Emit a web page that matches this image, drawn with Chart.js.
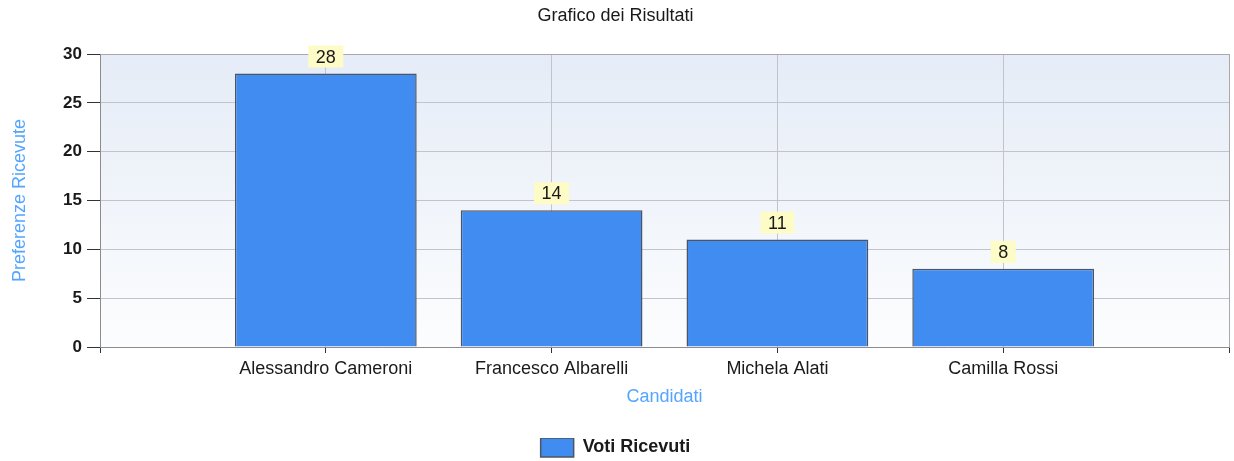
<!DOCTYPE html>
<html lang="it">
<head>
    <meta charset="utf-8">
    <title>Grafico dei Risultati</title>
    <script src="https://cdn.jsdelivr.net/npm/chart.js@4/dist/chart.umd.min.js"></script>
    <style>
        body { margin: 0; background: #fff; }
    </style>
</head>
<body>
    <canvas id="chart" width="1234" height="461"></canvas>

<script>
    // dati del grafico
    const chartTitle = 'Grafico dei Risultati';
    const categories = ['Alessandro Cameroni', 'Francesco Albarelli', 'Michela Alati', 'Camilla Rossi'];
    const votes = [28, 14, 11, 8];
    const seriesName = 'Voti Ricevuti';
    const yMin = 0;
    const yMax = 30;
    const yStep = 5;

    // slot vuoti ai lati, come nel grafico originale
    const labels = [''].concat(categories, ['']);
    const values = [null].concat(votes, [null]);

    Chart.defaults.font.family = "'Liberation Sans', Arial, sans-serif";
    Chart.defaults.font.size = 18;
    Chart.defaults.color = '#1a1a1a';

    // sfondo sfumato dell'area del grafico
    const plotBackground = {
        id: 'plotBackground',
        beforeDraw(chart) {
            const { ctx, chartArea: a } = chart;
            const g = ctx.createLinearGradient(0, a.top, 0, a.bottom);
            g.addColorStop(0, '#e5ecf7');
            g.addColorStop(1, '#fcfdfe');
            ctx.save();
            ctx.fillStyle = g;
            ctx.fillRect(a.left, a.top, a.right - a.left, a.bottom - a.top);
            ctx.restore();
        }
    };

    // etichette gialle sopra le barre
    const valueLabels = {
        id: 'valueLabels',
        afterDatasetsDraw(chart) {
            const ctx = chart.ctx;
            const meta = chart.getDatasetMeta(0);
            ctx.save();
            ctx.font = "18px 'Liberation Sans', Arial, sans-serif";
            ctx.textAlign = 'center';
            ctx.textBaseline = 'middle';
            meta.data.forEach((bar, i) => {
                const v = values[i];
                if (v === null) return;
                const txt = String(v);
                const w = ctx.measureText(txt).width + 15;
                const h = 22;
                const bottom = bar.y - 6;
                ctx.fillStyle = '#fdfcc6';
                ctx.fillRect(bar.x - w / 2, bottom - h, w, h);
                ctx.fillStyle = '#1a1a1a';
                ctx.fillText(txt, bar.x, bottom - h / 2 + 1);
            });
            ctx.restore();
        }
    };

    const config = {
        type: 'bar',
        data: {
            labels: labels,
            datasets: [{
                label: seriesName,
                data: values,
                backgroundColor: '#418cf0',
                borderColor: '#4e5562',
                borderWidth: 1.5,
                categoryPercentage: 1,
                barPercentage: 0.805
            }]
        },
        options: {
            responsive: false,
            animation: false,
            layout: { padding: { left: 0, right: 3, top: 0, bottom: 0 } },
            plugins: {
                title: {
                    display: true,
                    text: chartTitle,
                    color: '#1a1a1a',
                    font: { size: 18, weight: 'normal' },
                    padding: { top: 5, bottom: 27.4 }
                },
                legend: {
                    position: 'bottom',
                    maxHeight: 23,
                    labels: {
                        boxWidth: 33,
                        boxHeight: 19,
                        padding: 0,
                        color: '#1a1a1a',
                        font: { size: 18, weight: 'bold' }
                    }
                },
                tooltip: { enabled: false }
            },
            scales: {
                x: {
                    offset: false,
                    grid: {
                        offset: false,
                        color: ctx => ctx.index === labels.length - 1 ? '#a9a9ad' : '#c4c4c8',
                        tickColor: '#333',
                        tickLength: 6
                    },
                    border: { color: '#8c8c8c' },
                    ticks: { padding: 5, color: '#1a1a1a', maxRotation: 0, autoSkip: false },
                    title: {
                        display: true,
                        text: 'Candidati',
                        color: '#55a5ff',
                        padding: { top: 0, bottom: 30 }
                    },
                    afterFit(scale) { scale.height = 91; }
                },
                y: {
                    min: yMin,
                    max: yMax,
                    grid: {
                        color: ctx => ctx.tick && ctx.tick.value === yMax ? '#a9a9ad' : '#c4c4c8',
                        tickColor: '#333',
                        tickLength: 13
                    },
                    border: { color: '#8c8c8c' },
                    ticks: {
                        stepSize: yStep,
                        padding: 5,
                        color: '#1a1a1a',
                        font: { size: 17, weight: 'bold' }
                    },
                    title: {
                        display: true,
                        text: 'Preferenze Ricevute',
                        color: '#55a5ff',
                        padding: { top: 9, bottom: 0 }
                    },
                    afterFit(scale) { scale.width = 100; }
                }
            }
        },
        plugins: [plotBackground, valueLabels]
    };

    const ctx = document.getElementById('chart').getContext('2d');
    window.myChart = new Chart(ctx, config);
</script>
</body>
</html>
